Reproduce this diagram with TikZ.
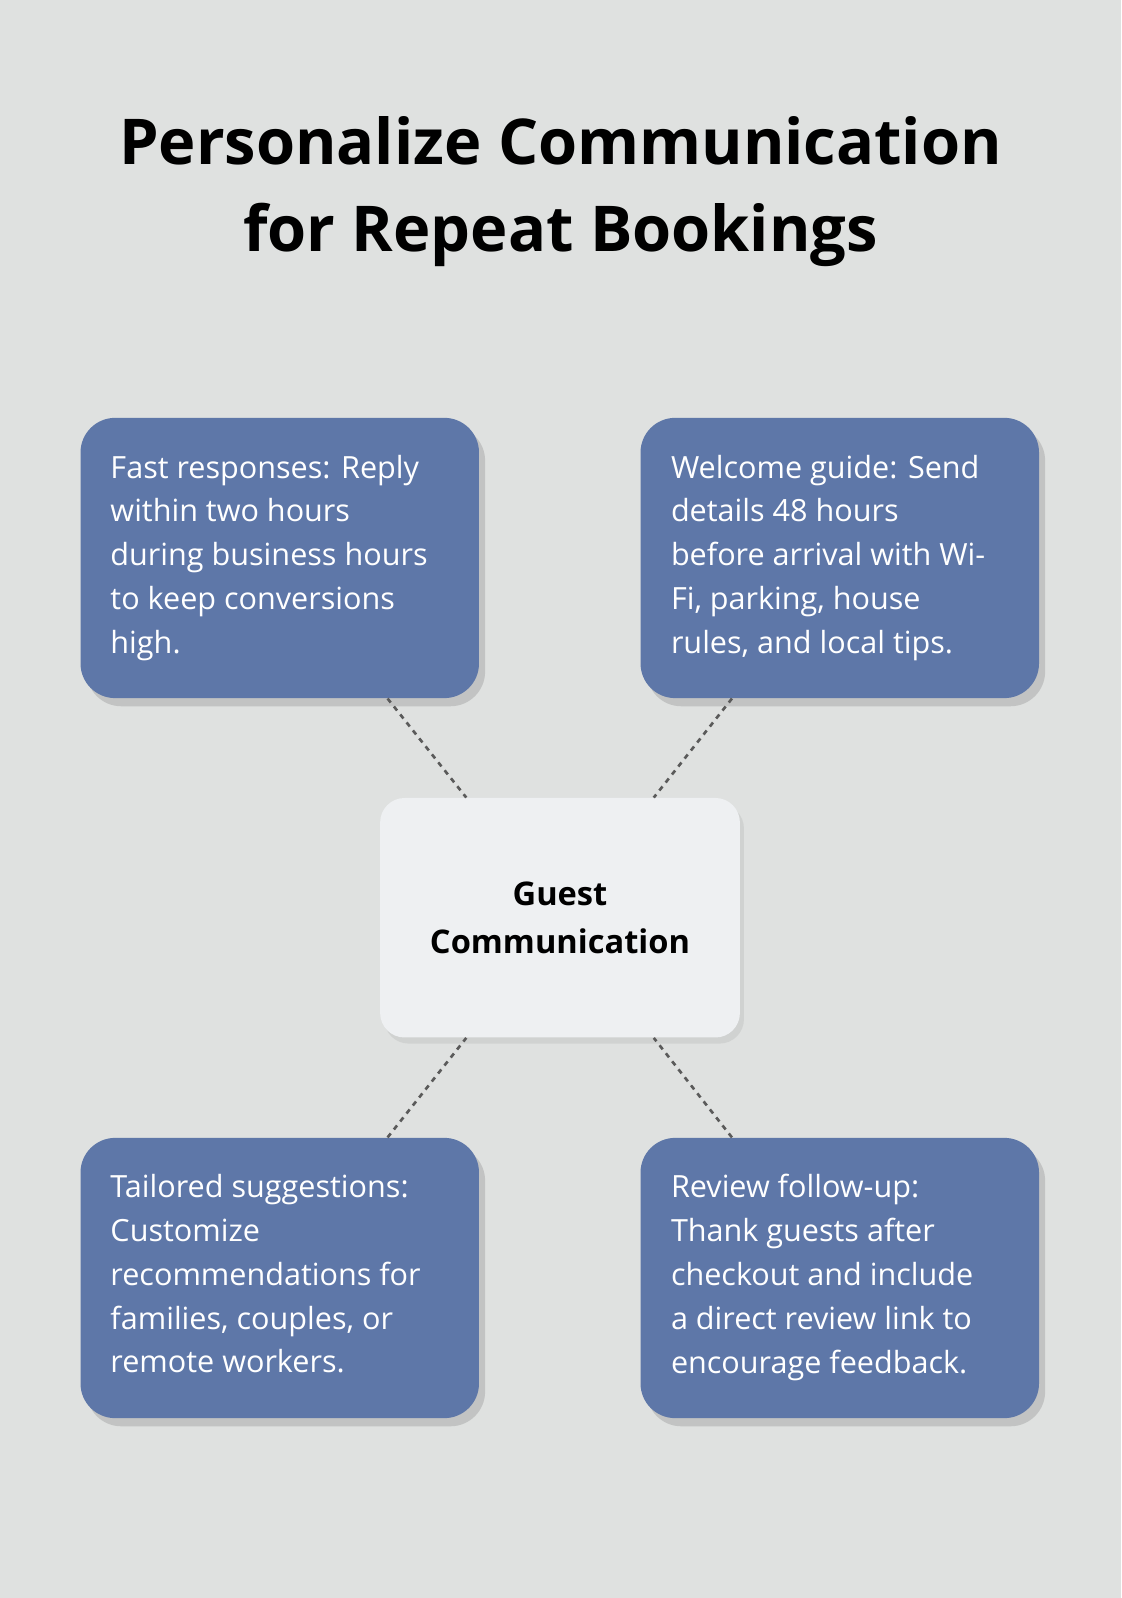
\documentclass[tikz,border=0pt]{standalone}
\usepackage{fontspec}
\setmainfont{Open Sans}
\usetikzlibrary{shadows,calc}
\definecolor{bg}{HTML}{DFE1E0}
\definecolor{bluebox}{HTML}{5E77A8}
\definecolor{cbox}{HTML}{EEF0F2}
\definecolor{conn}{HTML}{5A5A5A}
\tikzset{
 card/.style={draw=none,fill=bluebox,rounded corners=17pt,minimum width=195.5pt,minimum height=137.5pt,
   drop shadow={opacity=0.3,shadow xshift=3pt,shadow yshift=-4pt}},
 cardtxt/.style={anchor=north west,align=left,text=white,font=\fontsize{15}{21.5}\selectfont,inner sep=0pt},
 centerbox/.style={draw=none,fill=cbox,rounded corners=12pt,minimum width=176.5pt,minimum height=117.5pt,
   align=center,font=\fontsize{16}{23.5}\selectfont\bfseries,
   drop shadow={opacity=0.15,shadow xshift=2pt,shadow yshift=-3pt}},
 link/.style={draw=conn,line width=1.3pt,dash pattern=on 2.5pt off 2.5pt}
}
\begin{document}
\begin{tikzpicture}[x=0.5pt,y=-0.5pt]
\fill[bg] (0,0) rectangle (1100,1568);
\useasboundingbox (0,0) rectangle (1100,1568);
\node[align=center,font=\fontsize{31}{43}\selectfont\bfseries] (title) at (550,188) {Personalize Communication\\for Repeat Bookings};
\node[card] (tl) at (274.5,547.5) {};
\node[card] (tr) at (824,547.5) {};
\node[card] (bl) at (274.5,1254) {};
\node[card] (br) at (824,1254) {};
\node[centerbox] (c) at (549.5,900.5) {Guest\\Communication};
\node[cardtxt] (tlt) at (108,446) {Fast responses: Reply\\within two hours\\during business hours\\to keep conversions\\high.};
\node[cardtxt] (trt) at (658,446) {Welcome guide: Send\\details 48 hours\\before arrival with Wi-\\Fi, parking, house\\rules, and local tips.};
\node[cardtxt] (blt) at (108,1152) {Tailored suggestions:\\Customize\\recommendations for\\families, couples, or\\remote workers.};
\node[cardtxt] (brt) at (658,1152) {Review follow-up:\\Thank guests after\\checkout and include\\a direct review link to\\encourage feedback.};
\draw[link] ($(tl.south west)!0.77!(tl.south east)$) -- ($(c.north west)!0.24!(c.north east)$);
\draw[link] ($(tr.south west)!0.23!(tr.south east)$) -- ($(c.north west)!0.76!(c.north east)$);
\draw[link] ($(bl.north west)!0.77!(bl.north east)$) -- ($(c.south west)!0.24!(c.south east)$);
\draw[link] ($(br.north west)!0.23!(br.north east)$) -- ($(c.south west)!0.76!(c.south east)$);
\end{tikzpicture}
\end{document}
